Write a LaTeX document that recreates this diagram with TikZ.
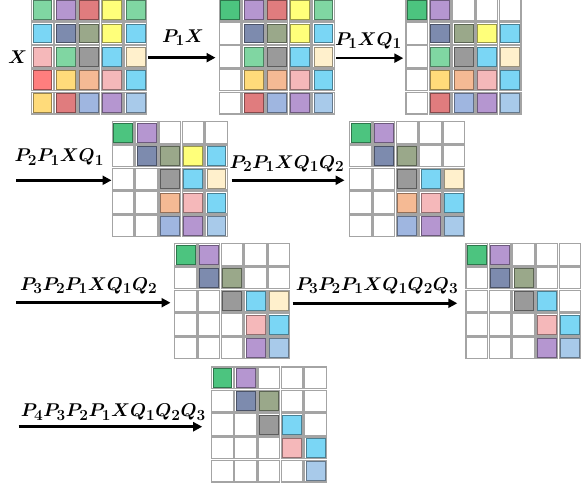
\documentclass[tikz,border=0pt]{standalone}
\usepackage{amsmath}
\usetikzlibrary{arrows.meta}
\DeclareMathSizes{17.28}{17.28}{14.4}{10}
\definecolor{lg}{HTML}{80D6A2}
\definecolor{dg}{HTML}{4CC47F}
\definecolor{pu}{HTML}{B596D0}
\definecolor{rd}{HTML}{E07C7E}
\definecolor{ye}{HTML}{FFFF7A}
\definecolor{sb}{HTML}{7AD6F5}
\definecolor{sl}{HTML}{7D8BAE}
\definecolor{sg}{HTML}{9AA88A}
\definecolor{pk}{HTML}{F5B8BA}
\definecolor{gy}{HTML}{9A9A9A}
\definecolor{cr}{HTML}{FFF0CC}
\definecolor{rr}{HTML}{FF7E7E}
\definecolor{go}{HTML}{FFDB7A}
\definecolor{pe}{HTML}{F5BA94}
\definecolor{pw}{HTML}{9FB6E0}
\definecolor{lb}{HTML}{A8CAEA}
\definecolor{framegray}{HTML}{A4A4A4}
\tikzset{
  gridbox/.style={minimum size=116.5pt,inner sep=0pt,outer sep=0pt},
  cellframe/.style={draw=framegray,line width=1.3pt,fill=white},
  arr/.style={line width=2.6pt,-{Triangle[length=9pt,width=9pt]}},
  labfont/.style={font=\fontsize{17.28}{20}\selectfont\boldmath,scale=1.07,transform shape},
  lab/.style={labfont,anchor=base,inner sep=0pt}
}
\newcommand{\cellgrid}[4]{%
  \node[gridbox] (#1) at (#2+58.25,#3+58.25) {};
  \foreach \c [count=\i from 0] in {#4} {
    \pgfmathtruncatemacro\rw{div(\i,5)}
    \pgfmathtruncatemacro\cl{mod(\i,5)}
    \pgfmathsetmacro\xx{#2+\cl*23.3}
    \pgfmathsetmacro\yy{#3+\rw*23.3}
    \draw[cellframe] (\xx+0.8,\yy+0.8) rectangle (\xx+22.5,\yy+22.5);
    \def\wcell{W}\edef\cur{\c}
    \ifx\cur\wcell\else
      \draw[fill=\c,draw=\c!60!black,line width=0.8pt] (\xx+2.2,\yy+2.2) rectangle (\xx+21.1,\yy+21.1);
    \fi
  }
}
\begin{document}
\begin{tikzpicture}[x=1pt,y=-1pt]
\useasboundingbox (0,0) rectangle (581,488);
\fill[white] (0,0) rectangle (581,488);
\cellgrid{g1}{30.7}{-1.6}{lg,pu,rd,ye,lg, sb,sl,sg,ye,sb, pk,lg,gy,sb,cr, rr,go,pe,pk,sb, go,rd,pw,pu,lb}
\cellgrid{g2}{218.5}{-1.6}{dg,pu,rd,ye,lg, W,sl,sg,ye,sb, W,lg,gy,sb,cr, W,go,pe,pk,sb, W,rd,pw,pu,lb}
\cellgrid{g3}{405.3}{-1.6}{dg,pu,W,W,W, W,sl,sg,ye,sb, W,lg,gy,sb,cr, W,go,pe,pk,sb, W,rd,pw,pu,lb}
\cellgrid{g4}{111.5}{121}{dg,pu,W,W,W, W,sl,sg,ye,sb, W,W,gy,sb,cr, W,W,pe,pk,sb, W,W,pw,pu,lb}
\cellgrid{g5}{349}{121}{dg,pu,W,W,W, W,sl,sg,W,W, W,W,gy,sb,cr, W,W,pe,pk,sb, W,W,pw,pu,lb}
\cellgrid{g6}{174}{243}{dg,pu,W,W,W, W,sl,sg,W,W, W,W,gy,sb,cr, W,W,W,pk,sb, W,W,W,pu,lb}
\cellgrid{g7}{465.3}{243}{dg,pu,W,W,W, W,sl,sg,W,W, W,W,gy,sb,W, W,W,W,pk,sb, W,W,W,pu,lb}
\cellgrid{g8}{210.7}{366.3}{dg,pu,W,W,W, W,sl,sg,W,W, W,W,gy,sb,W, W,W,W,pk,sb, W,W,W,W,lb}
% input label
\node[labfont,inner sep=0pt] (lx) at (17.5,57) {$X$};
% start points
\coordinate (s3) at (16,180.3);
\coordinate (s5) at (16,302.7);
\coordinate (s7) at (18.7,426.7);
% arrows
\draw[arr] ([xshift=1pt,yshift=-1pt]g1.east) -- ([xshift=-3pt,yshift=-1pt]g2.west);
\draw[arr] ([xshift=1pt,yshift=-1.5pt]g2.east) -- ([xshift=-2pt,yshift=-1.5pt]g3.west);
\draw[arr] (s3) -- (s3 -| g4.west);
\draw[arr] ([xshift=3.5pt,yshift=-1pt]g4.east) -- ([xshift=-4.5pt,yshift=-1pt]g5.west);
\draw[arr] (s5) -- ([xshift=-3.5pt]s5 -| g6.west);
\draw[arr] ([xshift=2pt,yshift=-2pt]g6.east) -- ([xshift=-8pt,yshift=-2pt]g7.west);
\draw[arr] (s7) -- ([xshift=-8.5pt]s7 -| g8.west);
% labels
\node[lab] (l1) at (183,42) {$P_1X$};
\node[lab] (l2) at (368.5,45) {$P_1XQ_1$};
\node[lab] (l3) at (59.3,161.7) {$P_2P_1XQ_1$};
\node[lab] (l4) at (287,168.3) {$P_2P_1XQ_1Q_2$};
\node[lab] (l5) at (88.7,290) {$P_3P_2P_1XQ_1Q_2$};
\node[lab] (l6) at (377,290) {$P_3P_2P_1XQ_1Q_2Q_3$};
\node[lab] (l7) at (113.3,416.7) {$P_4P_3P_2P_1XQ_1Q_2Q_3$};
\end{tikzpicture}
\end{document}
